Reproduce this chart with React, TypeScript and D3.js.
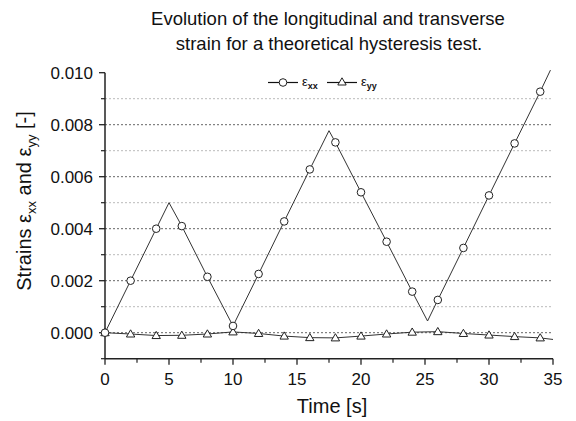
import React from "react";
import * as d3 from "d3";

const titleLines = [
  "Evolution of the longitudinal and transverse",
  "strain for a theoretical hysteresis test.",
];

// εxx line vertices (markers at even seconds)
const xxTime = [0, 2, 4, 5, 6, 8, 10, 12, 14, 16, 17.5, 18, 20, 22, 24, 25.2, 26, 28, 30, 32, 34, 34.8];
const xxValue = [
  0, 0.002, 0.004, 0.005, 0.0041, 0.00215, 0.00026, 0.00226, 0.00428, 0.00628, 0.00777, 0.00732,
  0.0054, 0.0035, 0.00158, 0.00045, 0.00126, 0.00326, 0.00528, 0.00728, 0.00927, 0.0101,
];

// εyy line vertices
const yyTime = [0, 2, 4, 6, 8, 10, 12, 14, 16, 18, 20, 22, 24, 26, 28, 30, 32, 34, 35];
const yyValue = [
  0, -0.00005, -0.00011, -0.0001, -0.00005, 0.00003, -0.00003, -0.00013, -0.00019, -0.0002,
  -0.00013, -0.00005, 0.00002, 0.00004, -0.00003, -0.00009, -0.00015, -0.0002, -0.00026,
];

const xTicks = [0, 5, 10, 15, 20, 25, 30, 35];
const xMinorTicks = [2.5, 7.5, 12.5, 17.5, 22.5, 27.5, 32.5];
const yTicks = [0, 0.002, 0.004, 0.006, 0.008, 0.01];
const yMinorTicks = [-0.001, 0.001, 0.003, 0.005, 0.007, 0.009];
const gridMajor = [0, 0.002, 0.004, 0.006, 0.008];
const gridMinor = [0.001, 0.003, 0.005, 0.007, 0.009];

const FONT = "'Liberation Sans', Arial, sans-serif";

export default function App() {
  const x = d3.scaleLinear().domain([0, 35]).range([105, 553]);
  const y = d3.scaleLinear().domain([-0.001, 0.01]).range([358.7, 72.7]);

  const xx = xxTime.map((t, i) => [t, xxValue[i]] as [number, number]);
  const yy = yyTime.map((t, i) => [t, yyValue[i]] as [number, number]);
  const line = d3
    .line<[number, number]>()
    .x((d) => x(d[0]))
    .y((d) => y(d[1]));

  const isMarker = (t: number) => Number.isInteger(t) && t % 2 === 0;
  const tri = "M0,-4.2L4.2,3L-4.2,3Z";

  const axisColor = "#222";
  const lineColor = "#333";

  return (
    <svg
      width={576}
      height={421}
      style={{ position: "absolute", left: 0, top: 0, background: "#fff" }}
      fontFamily={FONT}
    >
      <rect width={576} height={421} fill="#fff" />
      {/* title */}
      <text x={328} y={25} fontSize={18.5} textAnchor="middle" fill="#111">
        {titleLines[0]}
      </text>
      <text x={329} y={50} fontSize={18.5} textAnchor="middle" fill="#111">
        {titleLines[1]}
      </text>

      {/* grid */}
      {gridMinor.map((v) => (
        <line
          key={"gm" + v}
          x1={x(0)}
          x2={x(35)}
          y1={y(v)}
          y2={y(v)}
          stroke="#bbb"
          strokeWidth={1}
          strokeDasharray="2,2"
        />
      ))}
      {gridMajor.map((v) => (
        <line
          key={"gM" + v}
          x1={x(0)}
          x2={x(35)}
          y1={y(v)}
          y2={y(v)}
          stroke="#666"
          strokeWidth={1}
          strokeDasharray="2,2"
        />
      ))}

      {/* axes */}
      <line x1={x(0)} x2={x(0)} y1={y(0.01)} y2={y(-0.001)} stroke={axisColor} strokeWidth={1.5} />
      <line x1={x(0)} x2={x(35)} y1={y(-0.001)} y2={y(-0.001)} stroke={axisColor} strokeWidth={1.5} />
      {yTicks.map((v) => (
        <g key={"yt" + v}>
          <line x1={x(0) - 6} x2={x(0)} y1={y(v)} y2={y(v)} stroke={axisColor} strokeWidth={1.3} />
          <text x={x(0) - 12} y={y(v)} dy="0.36em" fontSize={17} textAnchor="end" fill="#111">
            {d3.format(".3f")(v)}
          </text>
        </g>
      ))}
      {yMinorTicks.map((v) => (
        <line key={"ym" + v} x1={x(0) - 4} x2={x(0)} y1={y(v)} y2={y(v)} stroke={axisColor} strokeWidth={1.2} />
      ))}
      {xTicks.map((v) => (
        <g key={"xt" + v}>
          <line x1={x(v)} x2={x(v)} y1={y(-0.001)} y2={y(-0.001) + 6} stroke={axisColor} strokeWidth={1.3} />
          <text x={x(v)} y={385} fontSize={17} textAnchor="middle" fill="#111">
            {v}
          </text>
        </g>
      ))}
      {xMinorTicks.map((v) => (
        <line key={"xm" + v} x1={x(v)} x2={x(v)} y1={y(-0.001)} y2={y(-0.001) + 4} stroke={axisColor} strokeWidth={1.2} />
      ))}

      {/* axis titles */}
      <text x={332} y={413} fontSize={20} textAnchor="middle" fill="#111">
        Time [s]
      </text>
      <text transform="translate(31,201) rotate(-90)" fontSize={20} textAnchor="middle" fill="#111">
        Strains ε<tspan fontSize={13} dy={5}>xx</tspan>
        <tspan dy={-5}> and ε</tspan>
        <tspan fontSize={13} dy={5}>yy</tspan>
        <tspan dy={-5}> [-]</tspan>
      </text>

      {/* series */}
      <path d={line(yy) || ""} fill="none" stroke={lineColor} strokeWidth={1} />
      <path d={line(xx) || ""} fill="none" stroke={lineColor} strokeWidth={1} />
      {yy.map((d) => (
        <path
          key={"yyM" + d[0]}
          d={tri}
          transform={`translate(${x(d[0])},${y(d[1])})`}
          fill="#fff"
          stroke="#222"
          strokeWidth={1}
          visibility={isMarker(d[0]) ? "visible" : "hidden"}
        />
      ))}
      {xx
        .filter((d) => isMarker(d[0]))
        .map((d) => (
          <circle key={"xxM" + d[0]} cx={x(d[0])} cy={y(d[1])} r={3.8} fill="#fff" stroke="#222" strokeWidth={1} />
        ))}

      {/* legend */}
      <g>
        <line x1={268} x2={298} y1={82.5} y2={82.5} stroke="#111" strokeWidth={1.2} />
        <circle cx={283} cy={82.5} r={3.8} fill="#fff" stroke="#222" strokeWidth={1} />
        <text x={302} y={86} fontSize={13} fill="#111">
          ε<tspan fontSize={9} dy={3} fontWeight="bold">xx</tspan>
        </text>
        <line x1={327} x2={357} y1={82.5} y2={82.5} stroke="#111" strokeWidth={1.2} />
        <path d={tri} transform="translate(342,82)" fill="#fff" stroke="#222" strokeWidth={1} />
        <text x={361} y={86} fontSize={13} fill="#111">
          ε<tspan fontSize={9} dy={3} fontWeight="bold">yy</tspan>
        </text>
      </g>
    </svg>
  );
}
